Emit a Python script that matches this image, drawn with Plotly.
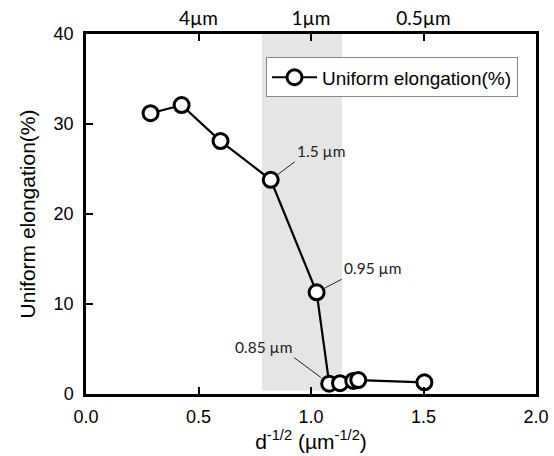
import plotly.graph_objects as go

x_vals = [0.287, 0.425, 0.598, 0.821, 1.025, 1.081, 1.129, 1.188, 1.21, 1.504]
y_vals = [31.2, 32.1, 28.1, 23.8, 11.3, 1.15, 1.2, 1.45, 1.55, 1.3]
series_name = "Uniform elongation(%)"
top_tick_vals = [0.5, 1.0, 1.5]
top_tick_text = ["4µm", "1µm", "0.5µm"]
shade_range = [0.782, 1.138]
labels = [(3, "1.5 µm"), (4, "0.95 µm"), (5, "0.85 µm")]

main_font = "Liberation Sans, Arial, sans-serif"
cal_font = "Lato, Open Sans, sans-serif"

fig = go.Figure()
fig.add_shape(type="rect", xref="x", yref="y", x0=shade_range[0], x1=shade_range[1],
              y0=0.4, y1=40, fillcolor="#e5e5e5", line=dict(width=0), layer="below")

fig.add_trace(go.Scatter(
    x=x_vals, y=y_vals, mode="lines+markers", name=series_name,
    line=dict(color="black", width=2.2),
    marker=dict(symbol="circle", size=15, color="white", line=dict(color="black", width=3)),
))
fig.add_trace(go.Scatter(x=[0, 2], y=[0, 0], xaxis="x2", mode="markers",
                         marker=dict(opacity=0), showlegend=False, hoverinfo="skip"))

anchor_cfg = {
    "1.5 µm": dict(ax=24, ay=-18, xanchor="left", yanchor="bottom", standoff=9),
    "0.95 µm": dict(ax=25, ay=-13, xanchor="left", yanchor="bottom", standoff=9),
    "0.85 µm": dict(ax=-35, ay=-26, xanchor="right", yanchor="bottom", standoff=10),
}
for idx, txt in labels:
    c = anchor_cfg[txt]
    fig.add_annotation(x=x_vals[idx], y=y_vals[idx], text=txt, showarrow=True,
                       arrowhead=0, arrowwidth=1, arrowcolor="#222",
                       ax=c["ax"], ay=c["ay"], xanchor=c["xanchor"], yanchor=c["yanchor"],
                       standoff=c["standoff"], font=dict(family=cal_font, size=15.5, color="#222"))

fig.update_layout(
    width=554, height=456,
    margin=dict(l=86, r=18, t=34, b=62, autoexpand=False),
    plot_bgcolor="white", paper_bgcolor="white",
    showlegend=True,
    legend=dict(x=0.4, y=0.935, xanchor="left", yanchor="top",
                bgcolor="white", bordercolor="#888", borderwidth=1,
                font=dict(family=main_font, size=19, color="black"),
                itemwidth=45, tracegroupgap=0),
    xaxis=dict(range=[0, 2], tickvals=[0, 0.5, 1.0, 1.5, 2.0],
               ticktext=["0.0", "0.5", "1.0", "1.5", "2.0"], automargin=False,
               ticks="inside", ticklen=7, tickwidth=2, tickcolor="black",
               showline=True, linecolor="black", linewidth=2.5, mirror=True,
               showgrid=False, zeroline=False, ticklabelstandoff=5,
               tickfont=dict(family=main_font, size=18, color="black"),
               title=dict(text="d<sup>-1/2</sup> (µm<sup>-1/2</sup>)", standoff=6,
                          font=dict(family=main_font, size=21, color="black"))),
    xaxis2=dict(range=[0, 2], overlaying="x", side="top", tickvals=top_tick_vals,
                ticktext=top_tick_text, ticks="inside", ticklen=7, tickwidth=2,
                tickcolor="black", showgrid=False, zeroline=False, showline=False,
                ticklabelstandoff=4, automargin=False,
                tickfont=dict(family=cal_font, size=19, color="black")),
    yaxis=dict(range=[0, 40], tickvals=[0, 10, 20, 30, 40], automargin=False,
               ticks="inside", ticklen=7, tickwidth=2, tickcolor="black",
               showline=True, linecolor="black", linewidth=2.5, mirror=True,
               showgrid=False, zeroline=False, ticklabelstandoff=6,
               tickfont=dict(family=main_font, size=18, color="black"),
               title=dict(text="Uniform elongation(%)", standoff=13,
                          font=dict(family=main_font, size=21, color="black"))),
)

fig.write_html("out.html")
